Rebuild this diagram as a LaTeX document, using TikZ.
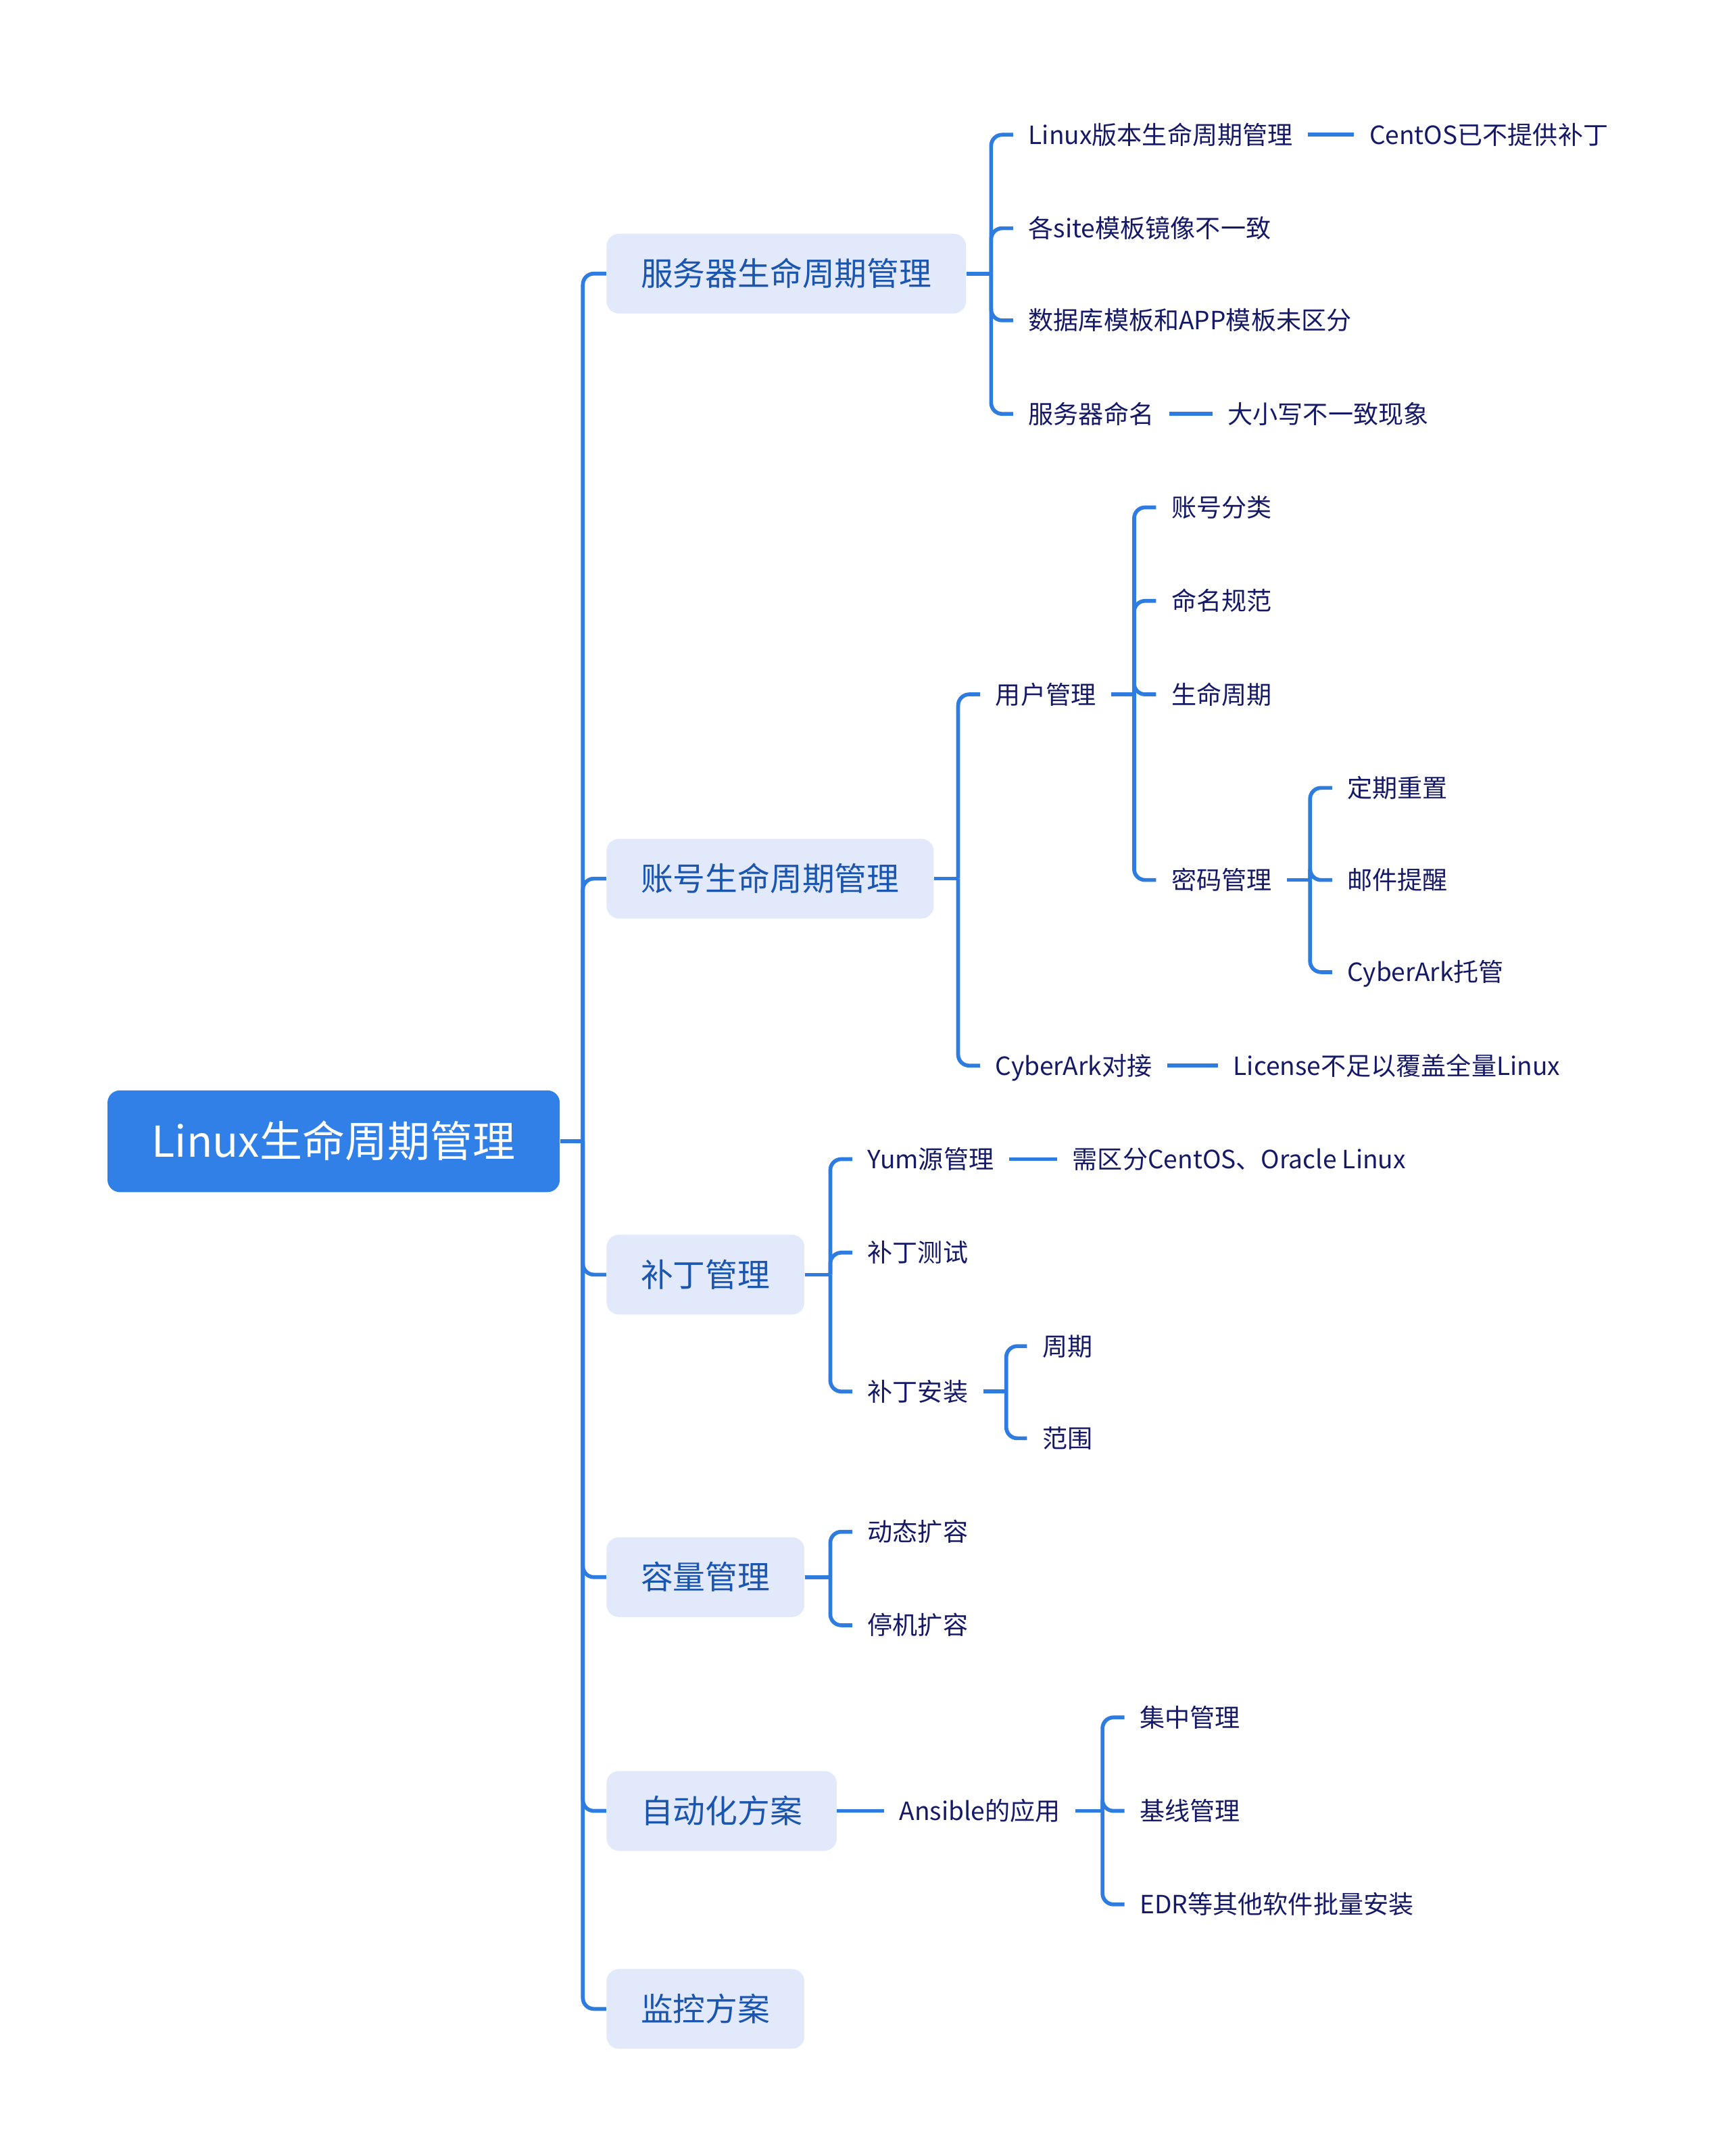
\documentclass[tikz,border=0pt]{standalone}
\usepackage{fontspec}
\setmainfont{Noto Sans CJK SC}
\usetikzlibrary{positioning,calc}
\definecolor{conncol}{HTML}{2F7CE0}
\definecolor{rootfill}{HTML}{3080E8}
\definecolor{lvfill}{HTML}{E1E9FB}
\definecolor{lvtext}{HTML}{1A55B0}
\definecolor{leaftext}{HTML}{161A66}
\tikzset{
  conn/.style={draw=conncol, line width=2.8pt, rounded corners=8pt},
  rootbox/.style={fill=rootfill, rounded corners=9pt, text=white, font=\fontsize{31}{31}\selectfont,
    minimum height=74pt, minimum width=329pt, inner xsep=32pt, inner ysep=0pt, anchor=west,
    text height=23.25pt, text depth=0pt},
  lvbox/.style={fill=lvfill, rounded corners=9pt, text=lvtext, font=\fontsize{23.5}{23.5}\selectfont,
    minimum height=58pt, inner xsep=25pt, inner ysep=0pt, anchor=west,
    text height=17.6pt, text depth=0pt},
  leaf/.style={text=leaftext, font=\fontsize{18.25}{18.25}\selectfont, inner xsep=11pt, inner ysep=0pt,
    anchor=west, text height=13.7pt, text depth=0pt}
}
\begin{document}
\begin{tikzpicture}[x=1pt,y=-1pt]
\useasboundingbox (0,0) rectangle (1259,1568);
% root
\node[rootbox] (root) at (78,830) {Linux生命周期管理};
\coordinate (trunk) at (424,830);
% level 1
\node[lvbox] (srv) at (441,199) {服务器生命周期管理};
\node[lvbox] (acc) at (441,639) {账号生命周期管理};
\node[lvbox] (pat) at (441,927) {补丁管理};
\node[lvbox] (cap) at (441,1147) {容量管理};
\node[lvbox] (aut) at (441,1317) {自动化方案};
\node[lvbox] (mon) at (441,1461) {监控方案};
\draw[conn] (root.east) -- (trunk);
\foreach \n in {srv,acc,pat,cap,aut,mon} \draw[conn] (trunk) |- (\n.west);
% server group
\node[leaf] (s1) at (737,98) {Linux版本生命周期管理};
\node[leaf] (s1a) at (985,98) {CentOS已不提供补丁};
\node[leaf] (s2) at (737,166) {各site模板镜像不一致};
\node[leaf] (s3) at (737,233) {数据库模板和APP模板未区分};
\node[leaf] (s4) at (737,301) {服务器命名};
\node[leaf] (s4a) at (882,301) {大小写不一致现象};
\coordinate (bs) at (721,199);
\draw[conn] (srv.east) -- (bs);
\foreach \n in {s1,s2,s3,s4} \draw[conn] (bs) |- (\n.west);
\draw[conn] (s1.east) -- (s1a.west);
\draw[conn] (s4.east) -- (s4a.west);
% account group
\node[leaf] (a1) at (713,505) {用户管理};
\node[leaf] (a2) at (713,775) {CyberArk对接};
\node[leaf] (a2a) at (886,775) {License不足以覆盖全量Linux};
\coordinate (ba) at (697,639);
\draw[conn] (acc.east) -- (ba);
\foreach \n in {a1,a2} \draw[conn] (ba) |- (\n.west);
\draw[conn] (a2.east) -- (a2a.west);
\node[leaf] (u1) at (841,369) {账号分类};
\node[leaf] (u2) at (841,437) {命名规范};
\node[leaf] (u3) at (841,505) {生命周期};
\node[leaf] (u4) at (841,640) {密码管理};
\coordinate (bu) at (825,505);
\draw[conn] (a1.east) -- (bu);
\foreach \n in {u1,u2,u3,u4} \draw[conn] (bu) |- (\n.west);
\node[leaf] (w1) at (969,573) {定期重置};
\node[leaf] (w2) at (969,640) {邮件提醒};
\node[leaf] (w3) at (969,707) {CyberArk托管};
\coordinate (bw) at (953,640);
\draw[conn] (u4.east) -- (bw);
\foreach \n in {w1,w2,w3} \draw[conn] (bw) |- (\n.west);
% patch group
\node[leaf] (p1) at (620,843) {Yum源管理};
\node[leaf] (p1a) at (769,843) {需区分CentOS、Oracle Linux};
\node[leaf] (p2) at (620,911) {补丁测试};
\node[leaf] (p3) at (620,1012) {补丁安装};
\coordinate (bp) at (604,927);
\draw[conn] (pat.east) -- (bp);
\foreach \n in {p1,p2,p3} \draw[conn] (bp) |- (\n.west);
\draw[conn] (p1.east) -- (p1a.west);
\node[leaf] (q1) at (747,979) {周期};
\node[leaf] (q2) at (747,1046) {范围};
\coordinate (bq) at (732,1012);
\draw[conn] (p3.east) -- (bq);
\foreach \n in {q1,q2} \draw[conn] (bq) |- (\n.west);
% capacity group
\node[leaf] (c1) at (620,1114) {动态扩容};
\node[leaf] (c2) at (620,1182) {停机扩容};
\coordinate (bc) at (604,1147);
\draw[conn] (cap.east) -- (bc);
\foreach \n in {c1,c2} \draw[conn] (bc) |- (\n.west);
% automation group
\node[leaf] (an) at (643,1317) {Ansible的应用};
\draw[conn] (aut.east) -- (an.west);
\node[leaf] (e1) at (818,1249) {集中管理};
\node[leaf] (e2) at (818,1317) {基线管理};
\node[leaf] (e3) at (818,1385) {EDR等其他软件批量安装};
\coordinate (be) at (802,1317);
\draw[conn] (an.east) -- (be);
\foreach \n in {e1,e2,e3} \draw[conn] (be) |- (\n.west);
\end{tikzpicture}
\end{document}
